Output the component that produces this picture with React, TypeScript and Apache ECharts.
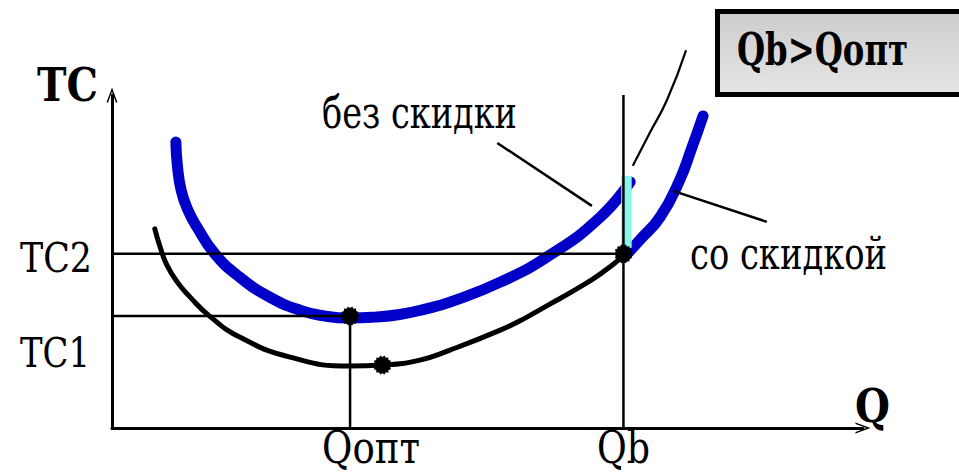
import React, { useEffect, useRef } from "react";
import * as echarts from "echarts";

// Key levels (axis units 0..100)
const Q_OPT = 31.7;
const Q_B = 68.1;
const TC_MIN = 33.6;
const TC2 = 52.3;
const X_MAX = 100;
const Y_MAX = 100;

// Upper thick blue curve ("без скидки")
const noDiscountCurve: number[][] = [
  [8.5, 85.9], [8.7, 79.0], [9.2, 71.5], [10.1, 65.5], [11.3, 60.4], [13.7, 52.3],
  [17.0, 45.3], [21.0, 39.3], [25.0, 35.4], [28.4, 33.6], [31.7, 33.0], [35.0, 33.3],
  [38.3, 34.1], [41.7, 35.7], [45.0, 37.8], [51.7, 43.8], [58.3, 51.9], [65.0, 63.3],
  [69.0, 73.9],
];
// Thin continuation of the upper curve beyond Qb
const noDiscountTail: number[][] = [
  [69.4, 79.0], [71.6, 88.6], [73.9, 98.5], [76.4, 113.2],
];
// Lower black curve
const baseCurve: number[][] = [
  [5.7, 59.8], [6.4, 54.4], [7.3, 49.0], [8.7, 43.8], [10.4, 39.3], [13.0, 33.6],
  [17.0, 27.3], [23.7, 21.3], [31.7, 18.6], [36.0, 18.9], [41.0, 20.4], [45.0, 23.4],
  [51.7, 29.4], [55.0, 33.0], [58.3, 37.2], [61.6, 41.4], [65.0, 46.2], [68.1, 51.7],
];
// Blue curve with discount ("со скидкой")
const discountCurve: number[][] = [
  [68.1, 51.1], [70.3, 56.5], [73.0, 63.4], [75.6, 74.5], [77.2, 84.1], [78.7, 93.7],
];
// Marked points
const markedPoints: number[][] = [[Q_OPT, TC_MIN], [36.0, 18.9], [Q_B, TC2]];
// Leader lines for the captions
const leaderNoDiscount: number[][] = [[51.3, 85.6], [63.9, 66.7]];
const leaderDiscount: number[][] = [[74.7, 71.2], [87.2, 61.9]];
// Cyan gap band at Qb
const gapBand: number[][] = [[67.8, 75.7], [69.2, 54.1]];

// Texts
const AXIS_Y_NAME = "TC";
const AXIS_X_NAME = "Q";
const Y_TICK_LABELS = ["TC2", "TC1"];
const X_TICK_LABELS = ["Qопт", "Qb"];
const CAPTIONS = ["без скидки", "со скидкой"];
const BOX_TEXT = "Qb>Qопт";

const FONT = "DejaVu Serif";

function starPath(n: number, rOut: number, rIn: number): string {
  let d = "path://";
  for (let i = 0; i < n * 2; i++) {
    const r = i % 2 === 0 ? rOut : rIn;
    const a = (Math.PI * i) / n;
    const px = (r * Math.cos(a)).toFixed(3);
    const py = (r * Math.sin(a)).toFixed(3);
    d += (i === 0 ? "M" : "L") + px + "," + py;
  }
  return d + "Z";
}
const STAR = starPath(14, 10, 8.3);
const CHEVRON = "path://M0,15 L5.5,0 L11,15 L9.4,15 L5.5,4 L1.6,15 Z";

let measureCtx: CanvasRenderingContext2D | null = null;
function measure(text: string, font: string): number {
  if (!measureCtx) measureCtx = document.createElement("canvas").getContext("2d");
  if (!measureCtx) return 0;
  measureCtx.font = font;
  return measureCtx.measureText(text).width;
}

export default function App() {
  const ref = useRef<HTMLDivElement>(null);
  useEffect(() => {
    if (!ref.current) return;
    const chart = echarts.init(ref.current, undefined, { renderer: "svg" });
    const refLine = (data: number[][], z = 6) => ({
      type: "line",
      data,
      symbol: "none",
      z,
      silent: true,
      clip: false,
      lineStyle: { color: "#000", width: 2.5 },
    });
    // text placed by left edge, cap-centre y, fitted to the target width
    const txt = (text: string, x: number, y: number, size: number, width: number, bold = false) => {
      const font = `${bold ? "bold " : ""}${size}px '${FONT}'`;
      const w = measure(text, font);
      const sx = w > 0 ? width / w : 0.8;
      return {
        type: "text",
        x,
        y,
        scaleX: sx,
        z: 20,
        style: {
          text,
          fontFamily: FONT,
          fontSize: size,
          fontWeight: bold ? "bold" : "normal",
          fill: "#000",
          textAlign: "left",
          textVerticalAlign: "middle",
        },
      };
    };
    const curve = (data: number[][], color: string, width: number, z: number) => ({
      type: "line",
      data,
      smooth: 0.5,
      symbol: "none",
      z,
      silent: true,
      clip: false,
      lineStyle: { color, width, cap: "round", join: "round" },
    });
    chart.setOption({
      animation: false,
      backgroundColor: "#fff",
      textStyle: { fontFamily: FONT },
      grid: { left: 112, right: 96, top: 95, bottom: 47 },
      xAxis: {
        type: "value",
        min: 0,
        max: X_MAX,
        axisLine: {
          show: true,
          onZero: false,
          symbol: ["none", CHEVRON],
          symbolSize: [11, 15],
          lineStyle: { color: "#000", width: 3 },
        },
        axisTick: { show: false },
        axisLabel: { show: false },
        splitLine: { show: false },
      },
      yAxis: {
        type: "value",
        min: 0,
        max: Y_MAX,
        axisLine: {
          show: true,
          onZero: false,
          symbol: ["none", CHEVRON],
          symbolSize: [11, 15],
          lineStyle: { color: "#000", width: 3 },
        },
        axisTick: { show: false },
        axisLabel: { show: false },
        splitLine: { show: false },
      },
      series: [
        curve(baseCurve, "#000", 5, 3),
        curve(noDiscountCurve, "#0000c8", 11, 4),
        curve(discountCurve, "#0000c8", 11, 4),
        curve(noDiscountTail, "#000", 2.2, 4),
        {
          type: "line",
          data: [],
          z: 5,
          silent: true,
          markArea: {
            z: 5,
            silent: true,
            itemStyle: { color: "#88f7ea", opacity: 1 },
            data: [[{ coord: gapBand[0] }, { coord: gapBand[1] }]],
          },
        },
        refLine([[0, TC2], [Q_B, TC2]]),
        refLine([[0, TC_MIN], [Q_OPT, TC_MIN]]),
        refLine([[Q_OPT, TC_MIN], [Q_OPT, 0]]),
        refLine([[Q_B, Y_MAX], [Q_B, 0]]),
        refLine(leaderNoDiscount),
        refLine(leaderDiscount),
        {
          type: "scatter",
          data: markedPoints,
          symbol: STAR,
          symbolSize: 19,
          z: 10,
          silent: true,
          itemStyle: { color: "#000", opacity: 1 },
        },
      ],
      graphic: [
        {
          type: "rect",
          z: 15,
          shape: { x: 717.5, y: 11.5, width: 320, height: 83 },
          style: {
            fill: new echarts.graphic.LinearGradient(0, 0, 0, 1, [
              { offset: 0, color: "#cdcdcd" },
              { offset: 1, color: "#e5e5e5" },
            ]),
            stroke: "#000",
            lineWidth: 5,
          },
        },
        txt(BOX_TEXT, 737, 50, 44, 171, true),
        txt(AXIS_Y_NAME, 37, 85, 46, 61, true),
        txt(Y_TICK_LABELS[0], 20, 258, 41, 72),
        txt(Y_TICK_LABELS[1], 20, 353, 41, 70),
        txt(X_TICK_LABELS[0], 322, 448, 44, 98),
        txt(X_TICK_LABELS[1], 597, 448, 44, 53),
        txt(AXIS_X_NAME, 855, 405, 46, 35, true),
        txt(CAPTIONS[0], 322, 113, 44, 195),
        txt(CAPTIONS[1], 690, 254, 44, 197),
      ],
    });
    return () => chart.dispose();
  }, []);
  return (
    <div
      ref={ref}
      style={{ position: "fixed", left: 0, top: 0, width: 959, height: 475 }}
    />
  );
}
